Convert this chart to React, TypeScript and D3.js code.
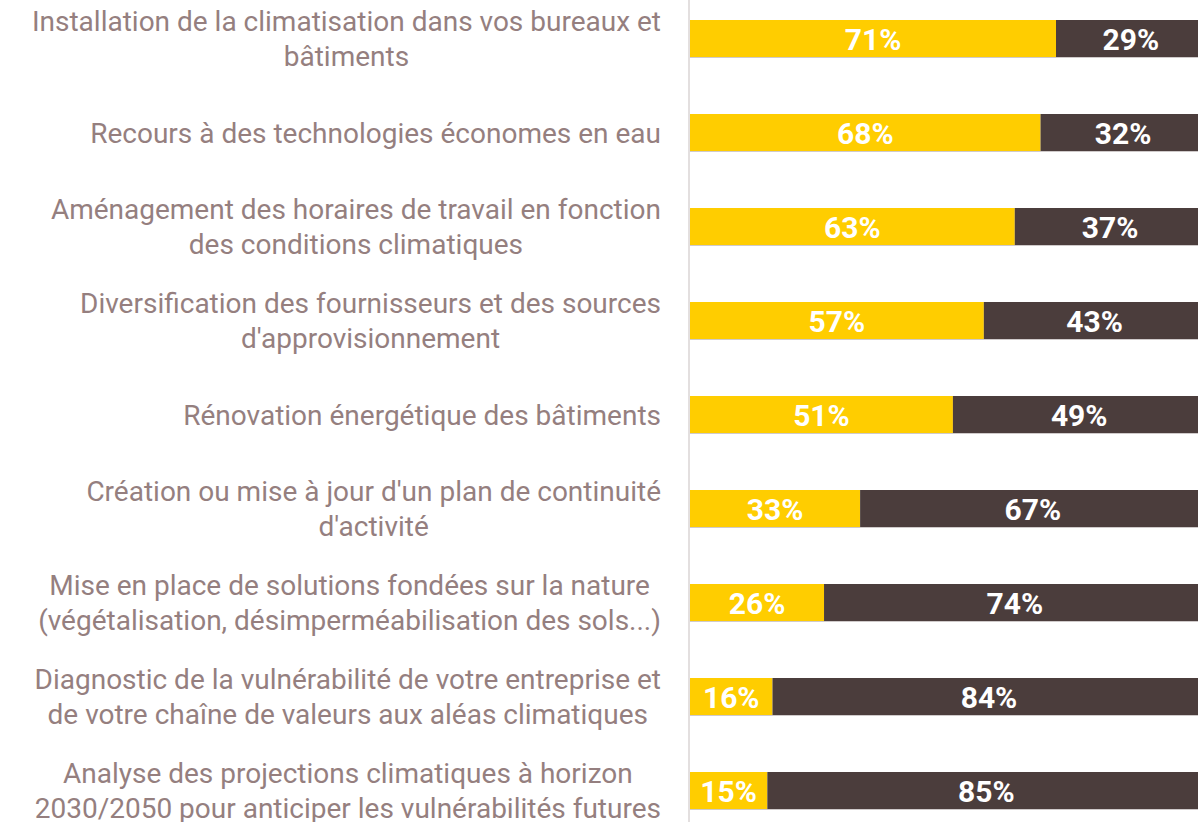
import React from "react";
import * as d3 from "d3";

const categories: string[][] = [
  ["Installation de la climatisation dans vos bureaux et", "bâtiments"],
  ["Recours à des technologies économes en eau"],
  ["Aménagement des horaires de travail en fonction", "des conditions climatiques"],
  ["Diversification des fournisseurs et des sources", "d'approvisionnement"],
  ["Rénovation énergétique des bâtiments"],
  ["Création ou mise à jour d'un plan de continuité", "d'activité"],
  ["Mise en place de solutions fondées sur la nature", "(végétalisation, désimperméabilisation des sols...)"],
  ["Diagnostic de la vulnérabilité de votre entreprise et", "de votre chaîne de valeurs aux aléas climatiques"],
  ["Analyse des projections climatiques à horizon", "2030/2050 pour anticiper les vulnérabilités futures"],
];
const yesValues = [71, 68, 63, 57, 51, 33, 26, 16, 15];
const noValues = [29, 32, 37, 43, 49, 67, 74, 84, 85];

const W = 1198;
const H = 822;
const FONT = "Roboto, 'Noto Sans', sans-serif";
const LABEL_SIZE = 28;

let ctx: CanvasRenderingContext2D | null = null;
function measure(s: string): number {
  if (!ctx) {
    const c = document.createElement("canvas");
    ctx = c.getContext("2d");
  }
  if (!ctx) return s.length * LABEL_SIZE * 0.5;
  ctx.font = `${LABEL_SIZE}px Roboto`;
  return ctx.measureText(s).width;
}

export default function App() {
  const ids = categories.map((_, i) => String(i));
  const y = d3
    .scaleBand<string>()
    .domain(ids)
    .range([-8.5, -8.5 + 94 * 9])
    .paddingInner(57 / 94)
    .paddingOuter(57 / 188);
  const x = d3.scaleLinear().domain([0, 100]).range([690, 1205.5]);
  const bw = y.bandwidth();
  const right = 661;

  return (
    <div style={{ position: "absolute", left: 0, top: 0, width: W, height: H, overflow: "hidden", background: "#fff" }}>
      <svg width={W} height={H} style={{ display: "block" }}>
        <line x1={689} x2={689} y1={0} y2={H} stroke="#e3dfdf" strokeWidth={2} />
        {categories.map((lines, i) => {
          const y0 = y(String(i))!;
          const cy = y0 + bw / 2;
          const lh = 35;
          const maxW = Math.max(...lines.map(measure));
          const cx = right - maxW / 2;
          return (
            <g key={i}>
              <text
                y={cy - ((lines.length - 1) * lh) / 2}
                textAnchor="middle"
                dominantBaseline="central"
                fill="#957f7f"
                fontFamily={FONT}
                fontSize={LABEL_SIZE}
              >
                {lines.map((l, j) => (
                  <tspan key={j} x={cx} dy={j === 0 ? 0 : lh}>
                    {l}
                  </tspan>
                ))}
              </text>
              <line x1={x(0)} x2={x(100)} y1={y0 + bw + 0.5} y2={y0 + bw + 0.5} stroke="#cfcaca" strokeWidth={1} />
              <rect x={x(0)} y={y0} width={x(yesValues[i]) - x(0)} height={bw} fill="#ffcd00" />
              <rect x={x(yesValues[i])} y={y0} width={x(100) - x(yesValues[i])} height={bw} fill="#4b3d3c" />
              <text
                x={(x(0) + x(yesValues[i])) / 2}
                y={cy + 1}
                textAnchor="middle"
                dominantBaseline="central"
                fill="#fff"
                fontFamily={FONT}
                fontWeight={700}
                fontSize={30}
              >
                {yesValues[i]}%
              </text>
              <text
                x={(x(yesValues[i]) + x(100)) / 2}
                y={cy + 1}
                textAnchor="middle"
                dominantBaseline="central"
                fill="#fff"
                fontFamily={FONT}
                fontWeight={700}
                fontSize={30}
              >
                {noValues[i]}%
              </text>
            </g>
          );
        })}
      </svg>
    </div>
  );
}
